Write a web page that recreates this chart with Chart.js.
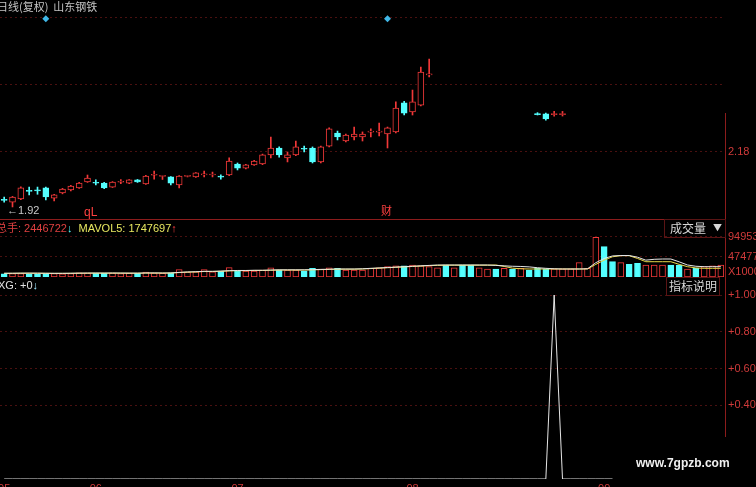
<!DOCTYPE html>
<html>
<head>
<meta charset="utf-8">
<title>山东钢铁 日线</title>
<script src="https://cdn.jsdelivr.net/npm/chart.js@4.4.1/dist/chart.umd.min.js"></script>
<style>
  body { margin: 0; background: #000; overflow: hidden; }
  #wrap { position: relative; width: 756px; height: 487px; overflow: hidden; background: #000;
          font-family: "Liberation Sans", "Noto Sans CJK SC", sans-serif; font-size: 11px; }
  canvas { position: absolute; left: 0; }
  .t { position: absolute; white-space: nowrap; line-height: 1; }
  .box { position: absolute; border: 1px solid #5a1414; color: #d8d8d8; font-family: "Noto Sans CJK SC", sans-serif;
         font-size: 12px; line-height: 16px; }
</style>
</head>
<body>
<div id="wrap">
  <canvas id="price" width="756" height="220" style="top:0"></canvas>
  <canvas id="vol" width="756" height="57" style="top:220px"></canvas>
  <canvas id="xg" width="756" height="220" style="top:278px"></canvas>

  <div style="position:absolute;left:725px;top:113px;width:1px;height:324px;background:#8c1c1c"></div>

  <div class="t" style="left:-3px;top:1px;color:#c4c4c4;font-family:'Noto Sans CJK SC',sans-serif;font-size:11px">日线(复权)&nbsp;&nbsp;山东钢铁</div>
  <div class="t" style="left:7px;top:205px;color:#c8c8c8;font-size:11px">←1.92</div>
  <div class="t" style="left:84px;top:206px;color:#ff4040;font-size:12px">qL</div>
  <div class="t" style="left:381px;top:205px;color:#ff4040;font-family:'Noto Sans CJK SC',sans-serif;font-size:11px">财</div>

  <div class="t" style="left:-4px;top:222px;font-size:11px">
    <span style="color:#e04040;font-family:'Noto Sans CJK SC',sans-serif">总手</span><span style="color:#e04040">: 2446722</span><span style="color:#54ffff;font-weight:bold">↓</span>
    <span style="color:#e8e860">&nbsp;MAVOL5: 1747697</span><span style="color:#ff4040;font-weight:bold">↑</span>
  </div>
  <div class="box" style="left:664px;top:219px;width:60px;height:17px"><span style="position:absolute;left:5px">成交量</span><span style="position:absolute;left:48px;font-size:9px">▼</span></div>
  <div class="t" style="left:728px;top:266px;color:#d03a3a;font-size:11px">X1000</div>

  <div class="t" style="left:-2px;top:280px;color:#e0e0e0;font-size:11px">XG: +0<span style="color:#a0e8ff;font-weight:bold">↓</span></div>
  <div class="box" style="left:666px;top:277px;width:52px;height:17px;text-align:center">指标说明</div>
  <div class="t" style="left:636px;top:457px;color:#f0f0f0;font-size:12px;font-weight:bold">www.7gpzb.com</div>
</div>
<script>
  // ---- data ----
  function gap(n) { var a = []; for (var i = 0; i < n; i++) a.push(null); return a; }

  var days = 87;
  var opens  = [1.953, 1.943, 1.958, 1.996, 1.998, 2.010, 1.962, 1.986, 2.000, 2.010,
                2.038, 2.034, 2.033, 2.014, 2.037, 2.033, 2.048, 2.029, 2.070, 2.065,
                2.062, 2.024, 2.065, 2.062, 2.072, 2.071, 2.063, 2.071, 2.123, 2.104,
                2.119, 2.123, 2.166, 2.199, 2.152, 2.166, 2.195, 2.199, 2.133, 2.208,
                2.270, 2.232, 2.251, 2.251, 2.274, 2.274, 2.265, 2.275, 2.412, 2.369,
                2.402, 2.545].concat(gap(12), [2.362, 2.360, 2.357, 2.357], gap(19));
  var highs  = [1.967, 1.970, 2.015, 2.014, 2.014, 2.014, 1.980, 2.008, 2.022, 2.036,
                2.071, 2.048, 2.036, 2.040, 2.050, 2.050, 2.050, 2.069, 2.090, 2.068,
                2.064, 2.068, 2.069, 2.083, 2.090, 2.085, 2.072, 2.152, 2.128, 2.122,
                2.140, 2.170, 2.251, 2.204, 2.180, 2.232, 2.208, 2.204, 2.208, 2.294,
                2.279, 2.265, 2.298, 2.275, 2.289, 2.317, 2.298, 2.417, 2.420, 2.473,
                2.582, 2.620].concat(gap(12), [2.366, 2.364, 2.372, 2.372], gap(19));
  var lows   = [1.943, 1.920, 1.955, 1.977, 1.980, 1.953, 1.948, 1.982, 1.996, 2.008,
                2.036, 2.024, 2.006, 2.012, 2.030, 2.030, 2.036, 2.026, 2.052, 2.050,
                2.024, 2.010, 2.062, 2.060, 2.062, 2.062, 2.052, 2.068, 2.095, 2.100,
                2.116, 2.120, 2.152, 2.156, 2.133, 2.162, 2.180, 2.128, 2.128, 2.204,
                2.237, 2.228, 2.237, 2.232, 2.251, 2.256, 2.199, 2.270, 2.355, 2.355,
                2.398, 2.535].concat(gap(12), [2.355, 2.331, 2.350, 2.350], gap(19));
  var closes = [1.951, 1.967, 2.010, 1.994, 1.996, 1.967, 1.977, 2.005, 2.019, 2.033,
                2.057, 2.032, 2.010, 2.038, 2.039, 2.048, 2.038, 2.066, 2.072, 2.067,
                2.033, 2.066, 2.067, 2.081, 2.074, 2.073, 2.061, 2.137, 2.104, 2.119,
                2.137, 2.166, 2.199, 2.166, 2.166, 2.204, 2.193, 2.133, 2.204, 2.289,
                2.251, 2.260, 2.265, 2.265, 2.276, 2.276, 2.294, 2.388, 2.364, 2.417,
                2.558, 2.550].concat(gap(12), [2.357, 2.336, 2.362, 2.362], gap(19));
  var signal = gap(days); signal[5] = 2.81; signal[46] = 2.81;

  // volume in x1000, 1 = up day (red hollow), -1 = down day (cyan)
  var vols = [7500, 8000, 8200, 7000, 7000, 7800, 8000, 7600, 8000, 10000,
              9500, 8500, 9000, 9500, 8000, 9000, 8500, 11500, 9500, 9000,
              10000, 17500, 11900, 12500, 17500, 12000, 14000, 22300, 14000, 14000,
              14000, 16500, 22000, 16500, 16500, 16500, 14000, 20700, 19000, 22000,
              20700, 16500, 16500, 16500, 20600, 22000, 24500, 26800, 26800, 28500,
              26800, 24500, 22000, 28500, 22000, 28500, 28500, 22000, 19000, 19000,
              20600, 19000, 20600, 16500, 20600, 19000, 19500, 19500, 19500, 34000,
              20600, 94300, 72000, 36400, 34000, 30100, 32500, 28500, 28500, 28500,
              28500, 28500, 19000, 20800, 24500, 26800, 28500];
  var volDir = [-1, 1, 1, -1, -1, -1, 1, 1, 1, 1,
                1, -1, -1, 1, 1, 1, -1, 1, 1, 1,
                -1, 1, 1, 1, 1, 1, -1, 1, -1, 1,
                1, 1, 1, -1, 1, 1, -1, -1, 1, 1,
                -1, 1, 1, 1, 1, 1, 1, 1, -1, 1,
                1, 1, 1, -1, 1, -1, -1, 1, 1, -1,
                1, -1, 1, -1, -1, -1, 1, 1, 1, 1,
                1, 1, -1, -1, 1, -1, -1, 1, 1, 1,
                -1, -1, 1, -1, 1, 1, 1];
  var maWhite = [9000, 9000, 9200, 9300, 9200, 9000, 8800, 8800, 9000, 9200,
                 9400, 9500, 9400, 9500, 9400, 9300, 9200, 9600, 9700, 9500,
                 9600, 11000, 12000, 12500, 13500, 13500, 14000, 15000, 15500, 15500,
                 16000, 16000, 16500, 17000, 17000, 17000, 17000, 17500, 18000, 18500,
                 19000, 19000, 19000, 19500, 20600, 21500, 22500, 23500, 24500, 25500,
                 26500, 27500, 28500, 28500, 28500, 28500, 28500, 28500, 28500, 27500,
                 26500, 25500, 25000, 24000, 22000, 20600, 19500, 19000, 19000, 19000,
                 19500, 34000, 44000, 50000, 51000, 51000, 47000, 40000, 42000, 42700,
                 42700, 36000, 28500, 25500, 24500, 24500, 24500];
  var maYellow = [8500, 8600, 8800, 8800, 8700, 8600, 8500, 8500, 8600, 8800,
                  9000, 9000, 9000, 9100, 9000, 8900, 8900, 9200, 9300, 9200,
                  9300, 10500, 11500, 12000, 13000, 13000, 13500, 14500, 15000, 15000,
                  15500, 15500, 16000, 16500, 16500, 16500, 16500, 17000, 17500, 18000,
                  18500, 18500, 18500, 19000, 20000, 21000, 22000, 23000, 24000, 25000,
                  26000, 27000, 27500, 28000, 28000, 28000, 28000, 28000, 28000, 28500,
                  25000, 21000, 19500, 19000, 19000, 19000, 19000, 19000, 19000, 19000,
                  19000, 30000, 40000, 48000, 50600, 50600, 44000, 36300, 36300, 36300,
                  36300, 30000, 24500, 21500, 20600, 20600, 20600];

  var xg = gap(days);
  for (var k = 0; k <= 73; k++) xg[k] = 0;
  xg[66] = 1;

  var priceTicks = [2.18, 2.50, 2.815];
  var priceTickLabels = ['2.18', '', ''];
  var volTicks = [94953, 47477];
  var xgTicks = [1.0, 0.8, 0.6, 0.4];
  var monthLabels = ['05', '06', '07', '08', '09'];
  var monthIdx = [0, 11, 28, 49, 72];

  // ---- styling ----
  var RED = '#f03838', CYAN = '#54ffff', AXIS = '#d03a3a', GRID = '#4a1010';
  var labels = [];
  for (var i = 0; i < days; i++) labels.push(String(i));

  var candleCol = opens.map(function (o, i) { return o == null ? null : (closes[i] >= o ? RED : CYAN); });
  var bodies = opens.map(function (o, i) { return o == null ? null : [o, closes[i]]; });
  var wicks = opens.map(function (o, i) { return o == null ? null : [lows[i], highs[i]]; });
  var bodyFill = candleCol.map(function (c) { return c === CYAN ? CYAN : '#000'; });
  var volCol = volDir.map(function (d) { return d > 0 ? RED : CYAN; });
  var volFill = volDir.map(function (d) { return d > 0 ? '#000' : CYAN; });

  // no automatic padding round the plot area: panels must line up edge to edge
  function noPad(s) { s.paddingTop = 0; s.paddingBottom = 0; s.paddingLeft = 0; s.paddingRight = 0; }

  function base() {
    return {
      responsive: false, animation: false, events: [],
      layout: { padding: 0, autoPadding: false },
      plugins: { legend: { display: false }, tooltip: { enabled: false } }
    };
  }
  function yAxis(min, max, ticks, label) {
    return {
      position: 'right', min: min, max: max,
      afterFit: function (s) { s.width = 31; noPad(s); },
      afterBuildTicks: function (s) { s.ticks = ticks.map(function (v) { return { value: v }; }); },
      ticks: { color: AXIS, font: { size: 11, family: 'Liberation Sans' }, padding: 3, callback: label },
      grid: { color: GRID, drawTicks: false },
      border: { display: false, dash: [2, 3] }
    };
  }

  var opt1 = base();
  opt1.scales = {
    x: { grid: { display: false, drawTicks: false }, ticks: { display: false },
         afterFit: function (s) { s.height = 1; noPad(s); },
         border: { display: true, color: '#8c1c1c' } },
    y: yAxis(1.863, 2.899, priceTicks, function (v, i) { return priceTickLabels[i]; })
  };
  new Chart(document.getElementById('price'), {
    type: 'bar',
    data: {
      labels: labels,
      datasets: [
        { type: 'line', data: signal, showLine: false, pointStyle: 'rectRot', pointRadius: 3.5,
          pointBackgroundColor: '#40b8e8', pointBorderWidth: 0, order: 0 },
        { data: bodies, grouped: false, barThickness: 6, backgroundColor: bodyFill, borderColor: candleCol,
          borderWidth: 1, borderSkipped: false, minBarLength: 1, order: 1 },
        { data: wicks, grouped: false, barThickness: 1, backgroundColor: candleCol, borderWidth: 0, order: 2 }
      ]
    },
    options: opt1
  });

  var opt2 = base();
  opt2.scales = {
    x: { display: false },
    y: yAxis(0, 135300, volTicks, function (v) { return String(v); })
  };
  new Chart(document.getElementById('vol'), {
    type: 'bar',
    data: {
      labels: labels,
      datasets: [
        { type: 'line', data: maWhite, borderColor: '#e6e6e6', borderWidth: 1, pointRadius: 0, order: 0 },
        { type: 'line', data: maYellow, borderColor: '#e8d848', borderWidth: 1, pointRadius: 0, order: 0 },
        { data: vols, barThickness: 6, backgroundColor: volFill, borderColor: volCol, borderWidth: 1,
          borderSkipped: false, order: 1 }
      ]
    },
    options: opt2
  });

  var opt3 = base();
  opt3.scales = {
    x: { offset: true, grid: { display: false, drawTicks: false }, border: { display: false },
         afterFit: function (s) { s.height = 19; noPad(s); },
         ticks: { autoSkip: false, maxRotation: 0, padding: 3, color: AXIS, font: { size: 11, family: 'Liberation Sans' },
                  callback: function (v, i) { var m = monthIdx.indexOf(i); return m < 0 ? '' : monthLabels[m]; } } },
    y: yAxis(0, 1.0924, xgTicks, function (v) { return '+' + v.toFixed(2); })
  };
  new Chart(document.getElementById('xg'), {
    type: 'line',
    data: { labels: labels, datasets: [
      { data: xg, borderColor: '#e6e6e6', borderWidth: 1, pointRadius: 0, spanGaps: false }
    ] },
    options: opt3
  });
</script>
</body>
</html>
